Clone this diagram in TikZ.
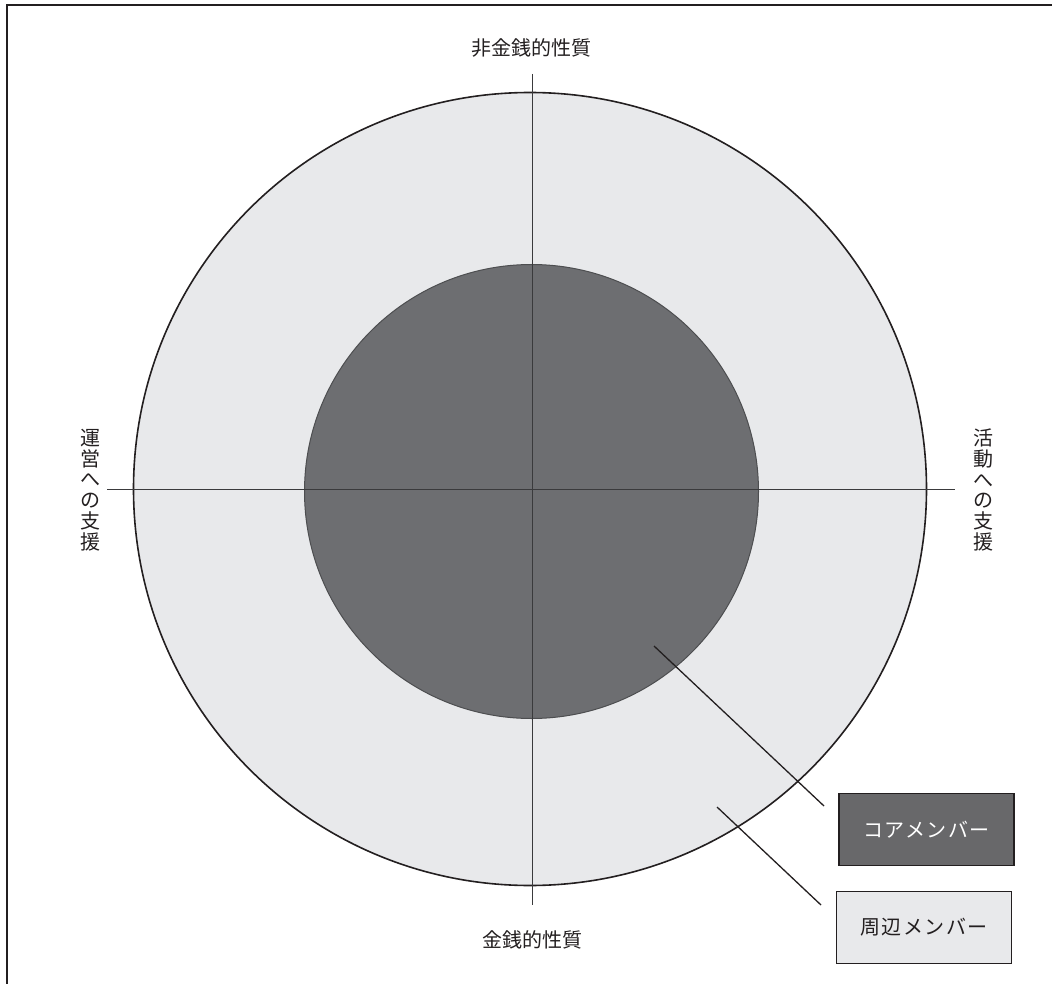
\documentclass[tikz,border=0pt]{standalone}
\usepackage{fontspec}
\newfontfamily\cjk{Noto Sans CJK JP}
\newfontfamily\cjkwide[LetterSpace=8]{Noto Sans CJK JP}
\definecolor{outerfill}{HTML}{E8E9EB}
\definecolor{innerfill}{HTML}{6D6E71}
\definecolor{inneredge}{HTML}{4D4E50}
\definecolor{boxdark}{HTML}{68686A}
\definecolor{ink}{HTML}{231F20}
\definecolor{axis}{HTML}{3A3A3C}
\tikzset{
  lbl/.style={font=\cjk\fontsize{20}{20.8}\selectfont, text=ink, inner sep=0pt, align=center},
  axisline/.style={draw=axis, line width=1pt},
  leader/.style={draw=ink, line width=1.3pt},
  legendbox/.style={draw=ink, line width=1.5pt, minimum width=175pt, minimum height=72pt, inner sep=0pt, font=\cjkwide\fontsize{20}{22}\selectfont}
}
\begin{document}
\begin{tikzpicture}[x=1pt,y=-1pt]
\useasboundingbox (0,0) rectangle (1052,984);
% frame
\coordinate (fb) at (7,984);
\coordinate (ftl) at (7,5);
\coordinate (fr) at (1052,5);
\draw[ink, line width=2pt] (fb) -- (ftl) -- (fr);
% circles
\node[circle, minimum size=793pt, inner sep=0pt, fill=outerfill, draw=ink, line width=1.6pt] (outer) at (530,489) {};
\node[circle, minimum size=454pt, inner sep=0pt, fill=innerfill, draw=inneredge, line width=1pt] (inner) at (531.5,491.5) {};
% axes
\coordinate (vt) at (532,74);
\coordinate (vb) at (532,905);
\coordinate (hl) at (107,489);
\coordinate (hr) at (955,489);
\draw[axisline] (vt) -- (vb);
\draw[axisline] (hl) -- (hr);
% labels
\node[lbl] (top) at (531,48) {非金銭的性質};
\node[lbl] (bottom) at (532,940) {金銭的性質};
\node[lbl] (left) at (90,490) {運\\営\\へ\\の\\支\\援};
\node[lbl] (right) at (983,490) {活\\動\\へ\\の\\支\\援};
% legend
\node[legendbox, fill=boxdark, text=white] (core) at (926.5,829.5) {コアメンバー};
\node[legendbox, fill=outerfill, text=ink] (peri) at (924,927.5) {周辺メンバー};
\coordinate (l1s) at (654,646);
\coordinate (l1e) at (824,806);
\coordinate (l2s) at (717,807);
\coordinate (l2e) at (821,905);
\draw[leader] (l1s) -- (l1e);
\draw[leader] (l2s) -- (l2e);
\end{tikzpicture}
\end{document}
